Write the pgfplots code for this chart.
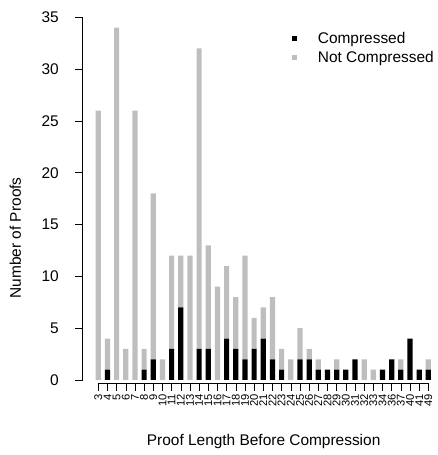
\documentclass[border=0pt]{standalone}
\usepackage{pgfplots}
\usepackage{pgfplotstable}
\pgfplotsset{compat=1.18}
\usepackage{fontspec}
\setmainfont{Liberation Sans}
\definecolor{notcomp}{RGB}{190,190,190}

% idx: bar position, len: proof length, comp / notcomp: stacked counts
\pgfplotstableread{
idx len comp notcomp
0 3 0 26
1 4 1 3
2 5 0 34
3 6 0 3
4 7 0 26
5 8 1 2
6 9 2 16
7 10 0 2
8 11 3 9
9 12 7 5
10 13 0 12
11 14 3 29
12 15 3 10
13 16 0 9
14 17 4 7
15 18 3 5
16 19 2 10
17 20 3 3
18 21 4 3
19 22 2 6
20 23 1 2
21 24 0 2
22 25 2 3
23 26 2 1
24 27 1 1
25 28 1 0
26 29 1 1
27 30 1 0
28 31 2 0
29 32 0 2
30 33 0 1
31 34 1 0
32 36 2 0
33 37 1 1
34 40 4 0
35 41 1 0
36 49 1 1
}\proofs

\begin{document}
\begin{tikzpicture}
\path[use as bounding box] (0bp,0bp) rectangle (438bp,455bp);
\begin{axis}[
  at={(82.7bp,71.9bp)}, anchor=south west,
  scale only axis, width=354.8bp, height=365.8bp,
  xmin=-1.7, xmax=37, ymin=-0.3, ymax=35,
  ybar stacked, bar width=5.2bp,
  axis x line*=bottom, axis y line*=left,
  x axis line style={draw=none}, y axis line style={draw=none},
  clip=false,
  tick align=outside, major tick length=7.5bp,
  tick style={black, line width=0.5bp},
  xtick=data, xticklabels from table={\proofs}{len},
  xticklabel style={rotate=90, anchor=east, font=\fontsize{11.2}{12}\selectfont},
  ytick={0,5,...,35},
  yticklabel style={font=\fontsize{15.5}{16}\selectfont},
  yticklabel shift=13bp,
  /pgf/number format/assume math mode=true,
  ylabel={Number of Proofs},
  xlabel={Proof Length Before Compression},
  every axis y label/.style={at={(axis description cs:-0.19,0.397)}, rotate=90, anchor=center, font=\fontsize{15.5}{16}\selectfont},
  every axis x label/.style={at={(axis description cs:0.51,-0.16)}, anchor=center, font=\fontsize{15.5}{16}\selectfont},
  legend style={at={(axis description cs:0.589,0.965)}, anchor=north west,
    draw=none, fill=none, inner sep=0pt, row sep=2bp,
    font=\fontsize{15.5}{16}\selectfont},
  legend cell align=left,
  legend image code/.code={\fill[#1] (0bp,-2.8bp) rectangle (5.6bp,2.8bp); \path[draw=none, fill=none] (0bp,0bp) -- (24bp,0bp);},
]
\addplot+[fill=black, draw=none] table[x=idx, y=comp] {\proofs};
\addplot+[fill=notcomp, draw=none] table[x=idx, y=notcomp] {\proofs};
\legend{Compressed, Not Compressed}
\draw[line width=0.5bp] (axis cs:-1.7,0) -- (axis cs:-1.7,35);
\draw[line width=0.5bp] (axis cs:0,-0.3) -- (axis cs:36,-0.3);
\end{axis}
\end{tikzpicture}
\end{document}
